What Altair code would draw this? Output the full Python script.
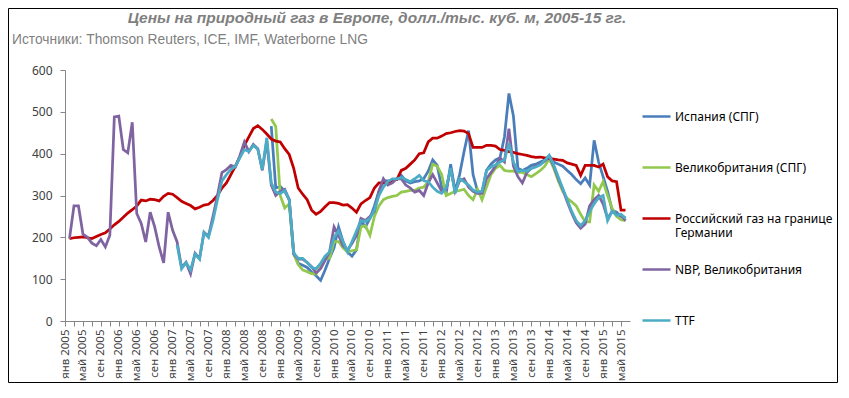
import altair as alt
import pandas as pd

TITLE = "Цены на природный газ в Европе, долл./тыс. куб. м, 2005-15 гг."
SUBTITLE = "Источники: Thomson Reuters, ICE, IMF, Waterborne LNG"
MONTHS = ["янв", "фев", "мар", "апр", "май", "июн", "июл", "авг", "сен", "окт", "ноя", "дек"]
FIRST_YEAR = 2005
N_MONTHS = 125
Y_TICKS = [0, 100, 200, 300, 400, 500, 600]

SERIES = ["Испания (СПГ)", "Великобритания (СПГ)", "Российский газ на границе Германии",
          "NBP, Великобритания", "TTF"]
COLORS = ["#4a7ebb", "#92c84e", "#c00000", "#8064a2", "#4bacc6"]
LEGEND_BREAK = {"Российский газ на границе Германии": ["Российский газ на границе", "Германии"]}

SPAIN = [None] * 45 + [
    466, 318, 322, 310, 290,
    165, 138, 133, 128, 117, 108, 97, 122, 150, 175,
    225, 190, 165, 155, 170, 240, 225, 245, 275, 310,
    335, 335, 335, 340, 348, 335, 330, 333, 335, 340,
    358, 385, 372, 320, 305, 375, 310, 350, 405, 455,
    350, 310, 308, 360, 375, 385, 390, 440, 544, 490,
    365, 360, 365, 372, 375, 380, 385, 395, 380, 375,
    370, 360, 350, 338, 328, 342, 325, 432, 380, 345,
    310, 265, 260, 250, 248]

UK_LNG = [None] * 45 + [
    483, 465, 300, 270, 280,
    160, 135, 122, 118, 113, 112, 130, 150, 150, 190,
    190, 175, 165, 168, 170, 225, 228, 205, 250, 275,
    290, 295, 298, 300, 308, 310, 312, 312, 318, 320,
    333, 375, 370, 350, 300, 305, 310, 312, 315, 300,
    290, 315, 290, 320, 350, 365, 372, 360, 358, 358,
    355, 355, 350, 345, 352, 360, 370, 388, 365, 335,
    310, 293, 285, 275, 255, 237, 237, 325, 310, 333,
    300, 270, 250, 242, 240]

RUSSIA = [
    197, 199, 200, 201, 199, 197, 202, 207, 211, 220,
    230, 238, 248, 258, 266, 275, 289, 287, 291, 290,
    287, 298, 305, 303, 295, 286, 281, 276, 268, 272,
    277, 279, 288, 300, 318, 330, 350, 370, 392, 420,
    440, 460, 467, 458, 447, 435, 430, 428, 412, 398,
    365, 318, 303, 290, 265, 255, 262, 273, 283, 283,
    281, 277, 278, 270, 260, 280, 288, 295, 318, 330,
    330, 328, 338, 338, 360, 365, 375, 385, 400, 402,
    428, 437, 437, 442, 448, 450, 453, 455, 454, 448,
    415, 415, 415, 420, 420, 418, 410, 408, 405, 403,
    400, 398, 396, 393, 391, 392, 390, 388, 387, 385,
    384, 378, 375, 372, 348, 372, 372, 372, 368, 375,
    345, 335, 333, 265, 265]

NBP = [
    197, 275, 275, 208, 200, 186, 180, 195, 177, 205,
    488, 490, 410, 402, 475, 257, 233, 189, 260, 225,
    177, 139, 260, 217, 189, 128, 140, 113, 162, 149,
    212, 203, 250, 300, 355, 362, 372, 368, 395, 428,
    405, 422, 412, 360, 430, 325, 300, 310, 315, 290,
    160, 148, 148, 140, 130, 115, 125, 145, 165, 225,
    205, 180, 170, 185, 205, 245, 240, 250, 262, 310,
    340, 325, 330, 340, 340, 325, 318, 308, 312, 300,
    330, 350, 330, 310, 315, 365, 310, 335, 340, 320,
    310, 305, 305, 340, 355, 370, 390, 380, 460, 370,
    345, 330, 355, 365, 370, 375, 382, 393, 370, 340,
    315, 285, 258, 235, 222, 232, 275, 290, 300, 280,
    245, 262, 255, 252, 240]

TTF = [None] * 24 + [
    182, 125, 140, 122, 160, 148,
    212, 200, 240, 290, 335, 350, 362, 370, 390, 410,
    405, 420, 410, 362, 438, 330, 308, 305, 312, 290,
    162, 150, 150, 140, 128, 125, 138, 155, 165, 200,
    215, 190, 165, 190, 215, 240, 238, 245, 265, 300,
    320, 333, 340, 340, 343, 338, 333, 340, 348, 335,
    333, 320, 310, 305, 318, 365, 305, 340, 333, 325,
    313, 308, 310, 360, 368, 373, 380, 385, 425, 380,
    357, 360, 358, 365, 368, 373, 384, 396, 373, 345,
    317, 290, 262, 240, 228, 240, 262, 280, 295, 300,
    240, 262, 253, 255, 245]

rows = []
for name, vals in zip(SERIES, [SPAIN, UK_LNG, RUSSIA, NBP, TTF]):
    for i, v in enumerate(vals):
        if v is not None:
            rows.append({"i": i, "value": v, "series": name})
df = pd.DataFrame(rows)

W, H = 565, 251
PAD = {"left": 57, "top": 62, "right": 208, "bottom": 62}
step = W / (N_MONTHS + 1)

months_js = "[" + ",".join("'" + m + "'" for m in MONTHS) + "]"
x_label_expr = (f"datum.value % 4 === 0 ? {months_js}[datum.value % 12] + ' ' + "
                f"({FIRST_YEAR} + floor(datum.value / 12)) : ''")
legend_expr = "datum.label"
for k, parts in LEGEND_BREAK.items():
    arr = "[" + ",".join("'" + p + "'" for p in parts) + "]"
    legend_expr = f"datum.label === '{k}' ? {arr} : " + legend_expr

AXIS_GRAY = "#868686"
FONT = "Noto Sans"
TITLE_FONT = "Liberation Sans"

lines = alt.Chart(df).mark_line(strokeWidth=2.75).encode(
    x=alt.X("i:Q", scale=alt.Scale(domain=[-1, N_MONTHS], nice=False, zero=False),
            axis=alt.Axis(values=list(range(0, N_MONTHS, 2)), labelExpr=x_label_expr,
                          labelAngle=270, labelAlign="right", labelBaseline="middle",
                          labelOverlap=False, labelFlush=False, tickOffset=-step,
                          tickSize=5, tickColor=AXIS_GRAY, domainColor=AXIS_GRAY,
                          labelFont=FONT, labelFontSize=11.5, labelColor="#404040",
                          labelPadding=3, grid=False, title=None)),
    y=alt.Y("value:Q", scale=alt.Scale(domain=[0, 600], nice=False),
            axis=alt.Axis(values=Y_TICKS, grid=False, tickSize=5, labelPadding=8,
                          tickColor=AXIS_GRAY, domainColor=AXIS_GRAY, labelFont=FONT,
                          labelFontSize=12, labelColor="#404040", title=None)),
    color=alt.Color("series:N", sort=SERIES,
                    scale=alt.Scale(domain=SERIES, range=COLORS),
                    legend=alt.Legend(orient="none", legendX=576, legendY=31,
                                      direction="vertical", title=None,
                                      symbolType="stroke", symbolSize=784,
                                      symbolStrokeWidth=2.5, labelFont=FONT,
                                      labelFontSize=12, labelColor="#000000",
                                      labelLimit=400, labelOffset=3,
                                      rowPadding=15, gridAlign="all",
                                      labelExpr=legend_expr)),
)

title = alt.Chart(pd.DataFrame({"t": [TITLE]})).mark_text(
    align="center", baseline="alphabetic", font=TITLE_FONT, fontSize=15.5,
    fontStyle="italic", fontWeight="bold", color="#7f7f7f"
).encode(x=alt.value(312), y=alt.value(-47), text="t:N")

subtitle = alt.Chart(pd.DataFrame({"t": [SUBTITLE]})).mark_text(
    align="left", baseline="alphabetic", font=TITLE_FONT,
    fontSize=13.8, color="#7f7f7f"
).encode(x=alt.value(-53), y=alt.value(-26), text="t:N")

frame = alt.Chart(pd.DataFrame({"k": [0]})).mark_rect(
    fill="white", fillOpacity=0, stroke="#000000", strokeWidth=1
).encode(x=alt.value(-PAD["left"] + 0.5), x2=alt.value(W + PAD["right"] - 0.5),
         y=alt.value(-PAD["top"] + 0.5), y2=alt.value(H + PAD["bottom"] - 0.5))

chart = alt.layer(frame, lines, title, subtitle).properties(
    width=W, height=H, autosize="none", padding=PAD,
).configure_view(stroke=None)

chart.save("out.html", embed_options={"renderer": "svg", "actions": False})
